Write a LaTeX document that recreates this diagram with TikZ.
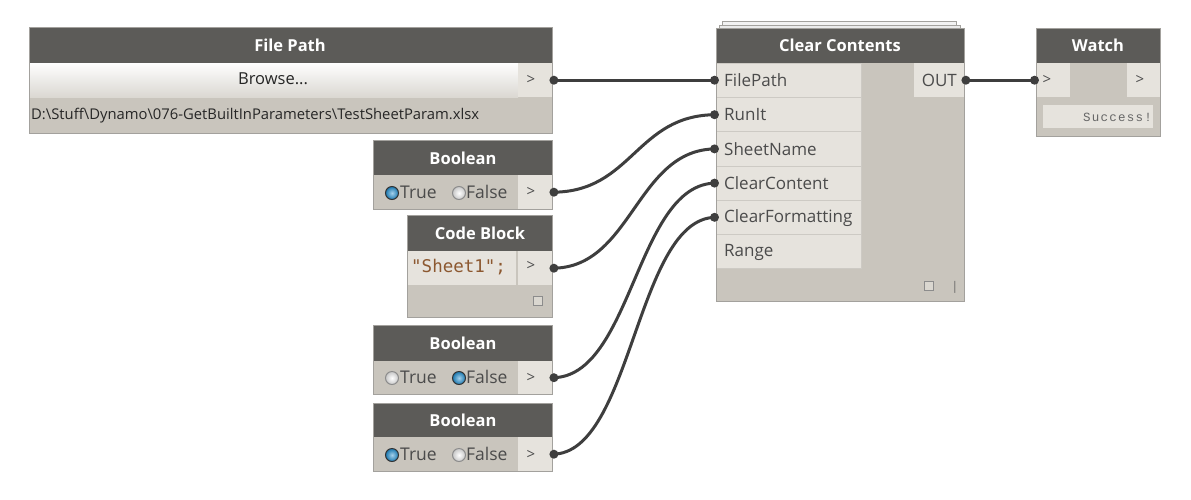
\documentclass[tikz,border=0pt]{standalone}
\usepackage{fontspec}
\setmainfont{Open Sans}
\newfontfamily\codefont{DejaVu Sans Mono}
\newfontfamily\succfont[LetterSpace=10]{Liberation Mono}
\definecolor{hdrc}{RGB}{92,91,88}
\definecolor{bodyc}{RGB}{201,197,189}
\definecolor{cellc}{RGB}{230,227,221}
\definecolor{bordc}{RGB}{163,161,157}
\definecolor{sepc}{RGB}{205,202,196}
\definecolor{txtc}{RGB}{75,75,75}
\definecolor{wirec}{RGB}{62,62,62}
\definecolor{codec}{RGB}{140,88,48}
\definecolor{radblue}{RGB}{30,140,205}
\tikzset{
  outerbox/.style={draw=bordc, line width=1.3pt, fill=bodyc, inner sep=0pt, anchor=north west},
  frame/.style={draw=bordc, line width=1.3pt, inner sep=0pt, anchor=north west},
  hdr/.style={fill=hdrc, inner sep=0pt, anchor=north west},
  title/.style={text=white, font=\fontsize{16.5}{16.5}\selectfont\bfseries, inner sep=0pt},
  cell/.style={fill=cellc, inner sep=0pt, anchor=north west},
  lbl/.style={text=txtc, font=\fontsize{17}{17}\selectfont, inner sep=0pt},
  blbl/.style={text=txtc, font=\fontsize{17.5}{17.5}\selectfont, inner sep=0pt},
  arr/.style={text=txtc, font=\fontsize{15}{15}\selectfont, inner sep=0pt},
  wire/.style={draw=wirec, line width=3pt},
  nub/.style={fill=wirec, circle, inner sep=0pt, minimum size=9pt},
  radon/.style={circle, draw=black!80, line width=1pt, inner color=radblue!40!white, outer color=radblue!85!black, minimum size=13pt, inner sep=0pt},
  radoff/.style={circle, draw=black!45, line width=1pt, inner color=white, outer color=black!22, minimum size=13pt, inner sep=0pt},
  icon/.style={draw=black!45, line width=0.8pt, fill=cellc!60!bodyc, inner sep=0pt, minimum size=9pt, anchor=north west}
}
\begin{document}
\begin{tikzpicture}[x=1pt,y=-1pt]
\path[fill=white] (0,0) rectangle (1191,499);
\useasboundingbox (0,0) rectangle (1191,499);

% ---------- File Path ----------
\node[outerbox, minimum width=523pt, minimum height=106pt] (fp) at (29,27) {};
\node[hdr, minimum width=523pt, minimum height=36pt] (fph) at (29,27) {};
\node[title] (fpt) at (290,45) {File Path};
\node[inner sep=0pt, anchor=north west, minimum width=489pt, minimum height=34pt, top color=white!95!cellc, bottom color=cellc!95!black] (fpb) at (29,63) {};
\node[text=black!85, font=\fontsize{16.5}{16.5}\selectfont, inner sep=0pt] (fpbt) at (273,79) {Browse...};
\node[cell, minimum width=34pt, minimum height=34pt] (fpo) at (518,63) {};
\node[arr] (fpot) at (531,80) {>};
\node[text=black!85, font=\fontsize{14.8}{14.8}\selectfont, inner sep=0pt, anchor=west] (fppath) at (31,116) {D:\textbackslash Stuff\textbackslash Dynamo\textbackslash 076-GetBuiltInParameters\textbackslash TestSheetParam.xlsx};
\node[frame, minimum width=523pt, minimum height=106pt] (fpf) at (29,27) {};

% ---------- Boolean 1 ----------
\node[outerbox, minimum width=179pt, minimum height=69pt] (b1) at (373,140) {};
\node[hdr, minimum width=179pt, minimum height=35pt] (b1h) at (373,140) {};
\node[title] (b1t) at (463,158) {Boolean};
\node[cell, minimum width=34pt, minimum height=34pt] (b1o) at (518,175) {};
\node[arr] (b1ot) at (531,192) {>};
\node[radon] (b1r1) at (392,193) {};
\node[blbl, anchor=west] (b1l1) at (400,192) {True};
\node[radoff] (b1r2) at (459,193) {};
\node[blbl, anchor=west] (b1l2) at (466,192) {False};
\node[frame, minimum width=179pt, minimum height=69pt] (b1f) at (373,140) {};

% ---------- Code Block ----------
\node[outerbox, minimum width=145pt, minimum height=102pt] (cb) at (407,215) {};
\node[hdr, minimum width=145pt, minimum height=36pt] (cbh) at (407,215) {};
\node[title] (cbt) at (480,233) {Code Block};
\node[cell, minimum width=109pt, minimum height=34pt] (cbc) at (407,251) {};
\node[text=codec, font=\codefont\fontsize{17.5}{17.5}\selectfont, inner sep=0pt, anchor=west] (cbct) at (411,267) {"Sheet1";};
\node[cell, minimum width=34pt, minimum height=34pt] (cbo) at (518,251) {};
\node[arr] (cbot) at (531,266) {>};
\node[icon] (cbi) at (533,296) {};
\node[frame, minimum width=145pt, minimum height=102pt] (cbf) at (407,215) {};

% ---------- Boolean 2 ----------
\node[outerbox, minimum width=179pt, minimum height=69pt] (b2) at (373,325) {};
\node[hdr, minimum width=179pt, minimum height=36pt] (b2h) at (373,325) {};
\node[title] (b2t) at (463,343) {Boolean};
\node[cell, minimum width=34pt, minimum height=33pt] (b2o) at (518,361) {};
\node[arr] (b2ot) at (531,378) {>};
\node[radoff] (b2r1) at (392,378) {};
\node[blbl, anchor=west] (b2l1) at (400,377) {True};
\node[radon] (b2r2) at (459,378) {};
\node[blbl, anchor=west] (b2l2) at (466,377) {False};
\node[frame, minimum width=179pt, minimum height=69pt] (b2f) at (373,325) {};

% ---------- Boolean 3 ----------
\node[outerbox, minimum width=179pt, minimum height=68pt] (b3) at (373,403) {};
\node[hdr, minimum width=179pt, minimum height=34pt] (b3h) at (373,403) {};
\node[title] (b3t) at (463,420) {Boolean};
\node[cell, minimum width=34pt, minimum height=34pt] (b3o) at (518,437) {};
\node[arr] (b3ot) at (531,455) {>};
\node[radon] (b3r1) at (392,455) {};
\node[blbl, anchor=west] (b3l1) at (400,454) {True};
\node[radoff] (b3r2) at (459,455) {};
\node[blbl, anchor=west] (b3l2) at (466,454) {False};
\node[frame, minimum width=179pt, minimum height=68pt] (b3f) at (373,403) {};

% ---------- Clear Contents ----------
\node[draw=bordc, line width=1.2pt, fill=black!5, inner sep=0pt, anchor=north west, minimum width=234pt, minimum height=12pt] (ccs2) at (722,21) {};
\node[draw=bordc, line width=1.2pt, fill=black!8, inner sep=0pt, anchor=north west, minimum width=241pt, minimum height=10pt] (ccs1) at (719,24.5) {};
\node[outerbox, minimum width=248pt, minimum height=273pt] (cc) at (716,28) {};
\node[hdr, minimum width=248pt, minimum height=35pt] (cch) at (716,28) {};
\node[title] (cct) at (840,45) {Clear Contents};
\node[cell, minimum width=145pt, minimum height=34.2pt, draw=sepc, line width=0.8pt] (in1) at (716,63) {};
\node[cell, minimum width=145pt, minimum height=34.2pt, draw=sepc, line width=0.8pt] (in2) at (716,97.2) {};
\node[cell, minimum width=145pt, minimum height=34.2pt, draw=sepc, line width=0.8pt] (in3) at (716,131.4) {};
\node[cell, minimum width=145pt, minimum height=34.2pt, draw=sepc, line width=0.8pt] (in4) at (716,165.6) {};
\node[cell, minimum width=145pt, minimum height=34.2pt, draw=sepc, line width=0.8pt] (in5) at (716,199.8) {};
\node[cell, minimum width=145pt, minimum height=34.2pt, draw=sepc, line width=0.8pt] (in6) at (716,234) {};
\node[lbl, anchor=west] (in1t) at (724,80.5) {FilePath};
\node[lbl, anchor=west] (in2t) at (724,115) {RunIt};
\node[lbl, anchor=west] (in3t) at (724,149.5) {SheetName};
\node[lbl, anchor=west] (in4t) at (724,183.5) {ClearContent};
\node[lbl, anchor=west] (in5t) at (724,218) {ClearFormatting};
\node[lbl, anchor=west] (in6t) at (724,252.5) {Range};
\node[cell, minimum width=50pt, minimum height=34pt] (ccout) at (914,63) {};
\node[lbl, anchor=east] (ccoutt) at (957,80.5) {OUT};
\node[icon] (cci) at (924,281) {};
\node[text=black!60, font=\fontsize{12}{12}\selectfont, inner sep=0pt] (ccbar) at (955,287) {|};
\node[frame, minimum width=248pt, minimum height=273pt] (ccf) at (716,28) {};

% ---------- Watch ----------
\node[outerbox, minimum width=124pt, minimum height=108pt] (w) at (1036,28) {};
\node[hdr, minimum width=124pt, minimum height=35pt] (wh) at (1036,28) {};
\node[title] (wt) at (1098,45) {Watch};
\node[cell, minimum width=34pt, minimum height=34pt] (win) at (1036,63) {};
\node[arr] (wint) at (1047,80) {>};
\node[cell, minimum width=33pt, minimum height=34pt] (wout) at (1127,63) {};
\node[arr] (woutt) at (1140,80) {>};
\node[cell, minimum width=110pt, minimum height=23pt] (wv) at (1043,105) {};
\node[text=black!60, font=\succfont\fontsize{12.5}{12.5}\selectfont, inner sep=0pt, anchor=east] (wvt) at (1152,117) {Success!};
\node[frame, minimum width=124pt, minimum height=108pt] (wf) at (1036,28) {};

% ---------- Wires ----------
\draw[wire] (fpo.east) -- (fpo.east -| in1.west);
\draw[wire] (b1o.east) .. controls +(80,0) and +(-80,0) .. (in2.west);
\draw[wire] (cbo.east) .. controls +(80,0) and +(-80,0) .. (in3.west);
\draw[wire] (b2o.east) .. controls +(80,0) and +(-80,0) .. (in4.west);
\draw[wire] (b3o.east) .. controls +(80,0) and +(-80,0) .. (in5.west);
\draw[wire] (ccout.east) -- (ccout.east -| win.west);

% port nubs
\foreach \p in {fpo.east, b1o.east, cbo.east, b2o.east, b3o.east, ccout.east}
  \node[nub] at ([xshift=1.5pt]\p) {};
\foreach \p in {in2.west, in3.west, in4.west, in5.west}
  \node[nub] at ([xshift=-1.5pt]\p) {};
\node[nub] at ([xshift=-1.5pt]fpo.east -| in1.west) {};
\node[nub] at ([xshift=-1.5pt]ccout.east -| win.west) {};
\end{tikzpicture}
\end{document}
